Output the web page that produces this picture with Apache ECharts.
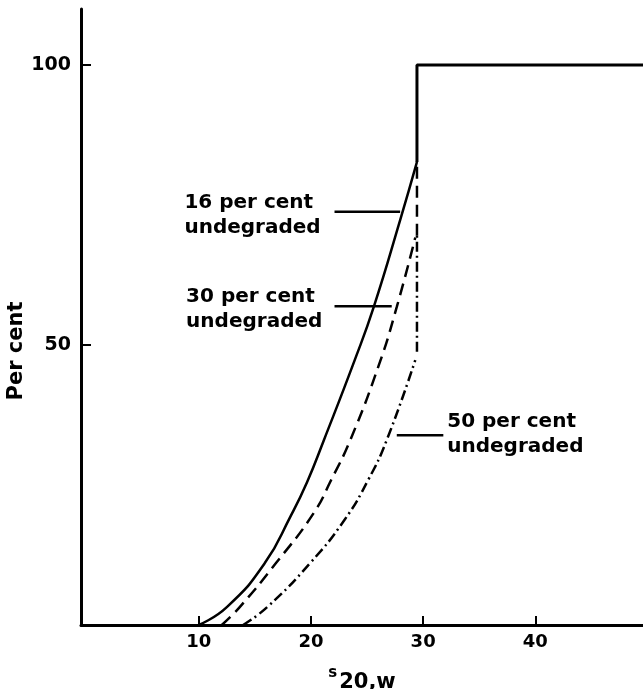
<!DOCTYPE html>
<html>
<head>
<meta charset="utf-8">
<script src="https://cdn.jsdelivr.net/npm/echarts@6/dist/echarts.min.js"></script>
<style>
  html, body { margin: 0; padding: 0; background: #fff; }
  #chart { width: 643px; height: 689px; }
</style>
</head>
<body>
<div id="chart"></div>
<script>
// ---- data ----
const xTicks = [10, 20, 30, 40];
const yTicks = [50, 100];
// 16 per cent undegraded (solid)
const curve16 = [[10, 0], [12.5, 3.2], [15.9, 11.1], [18.2, 19.5], [19.65, 25.5], [21.15, 33], [23.9, 47.3], [25.6, 56.8], [27.95, 72.3], [29.45, 82.7]];
// 30 per cent undegraded (dashed)
const curve30 = [[12.05, 0], [13.65, 3.2], [16.9, 11.1], [20.25, 20], [21.8, 25.9], [23.5, 33], [26.05, 46.4], [27.65, 56.8], [29.3, 69.2]];
const join30 = [[29.45, 69.5], [29.45, 82.7]];
// 50 per cent undegraded (dash-dot)
const curve50 = [[13.95, 0], [16.1, 3.2], [19.9, 11], [23.0, 18.8], [25.1, 25.9], [26.75, 33], [29.3, 47.3]];
const join50 = [[29.45, 48.8], [29.45, 69.5]];
// upper step (solid)
const stepLine = [[29.45, 82.7], [29.45, 100], [49.6, 100]];
// annotation texts
const labelTexts = ['16 per cent\nundegraded', '30 per cent\nundegraded', '50 per cent\nundegraded'];
const leader16 = [[22.1, 73.8], [27.95, 73.8]];
const leader30 = [[22.1, 56.9], [27.2, 56.9]];
const leader50 = [[27.65, 33.9], [31.8, 33.9]];
const labelAnchors = [[8.72, 73.1], [8.87, 56.4], [32.15, 34.0]];

const FONT = 'DejaVu Sans';
const chart = echarts.init(document.getElementById('chart'), null, { renderer: 'canvas' });

function lineSeries(data, type, smooth, width) {
  return {
    type: 'line',
    data: data,
    smooth: smooth,
    showSymbol: false,
    symbol: 'none',
    silent: true,
    animation: false,
    lineStyle: { color: '#000', width: width, type: type, cap: 'butt' }
  };
}

chart.setOption({
  animation: false,
  backgroundColor: '#fff',
  grid: { left: 81, right: 0, top: 9, bottom: 64, containLabel: false, outerBoundsMode: 'none' },
  xAxis: {
    type: 'value',
    min: -0.5,
    max: 49.6,
    name: '{s|s}{n|20,w}',
    nameLocation: 'middle',
    nameGap: 41,
    nameMoveOverlap: false,
    nameTextStyle: {
      rich: {
        s: { fontFamily: FONT, fontWeight: 'bold', fontSize: 15, color: '#000', verticalAlign: 'top', padding: [0, 2, 6, 0] },
        n: { fontFamily: FONT, fontWeight: 'bold', fontSize: 21, color: '#000', padding: [6, 0, 0, 0] }
      }
    },
    axisLine: { show: true, onZero: false, lineStyle: { color: '#000', width: 3 } },
    axisTick: { show: true, inside: true, length: 9, customValues: xTicks, lineStyle: { color: '#000', width: 2 } },
    axisLabel: { customValues: xTicks, margin: 8, color: '#000', fontFamily: FONT, fontWeight: 'bold', fontSize: 18 },
    splitLine: { show: false }
  },
  yAxis: {
    type: 'value',
    min: 0,
    max: 110,
    name: 'Per cent',
    nameLocation: 'middle',
    nameGap: 54,
    nameRotate: 90,
    nameMoveOverlap: false,
    nameTextStyle: { color: '#000', fontFamily: FONT, fontWeight: 'bold', fontSize: 21, padding: [0, 68, 0, 0] },
    axisLine: { show: true, onZero: false, lineStyle: { color: '#000', width: 3 } },
    axisTick: { show: true, inside: true, length: 10, customValues: yTicks, lineStyle: { color: '#000', width: 2 } },
    axisLabel: { customValues: yTicks, margin: 10, color: '#000', fontFamily: FONT, fontWeight: 'bold', fontSize: 19 },
    splitLine: { show: false }
  },
  series: [
    lineSeries(stepLine, 'solid', false, 3),
    lineSeries(curve16, 'solid', 0.5, 2.5),
    lineSeries(curve30, [12, 7], 0.5, 2.5),
    lineSeries(join30, [12, 7], false, 2.5),
    lineSeries(curve50, [10, 4, 2, 4], 0.5, 2.5),
    lineSeries(join50, [10, 4, 2, 4], false, 2.5),
    lineSeries(leader16, 'solid', false, 2.5),
    lineSeries(leader30, 'solid', false, 2.5),
    lineSeries(leader50, 'solid', false, 2.5)
  ]
});

const graphics = labelAnchors.map(function (a, i) {
  const p = chart.convertToPixel({ gridIndex: 0 }, a);
  return {
    type: 'text',
    x: p[0],
    y: p[1],
    silent: true,
    style: {
      text: labelTexts[i],
      fill: '#000',
      font: 'bold 20px "' + FONT + '"',
      lineHeight: 25,
      align: 'left',
      verticalAlign: 'middle'
    }
  };
});
chart.setOption({ graphic: graphics });
</script>
</body>
</html>
